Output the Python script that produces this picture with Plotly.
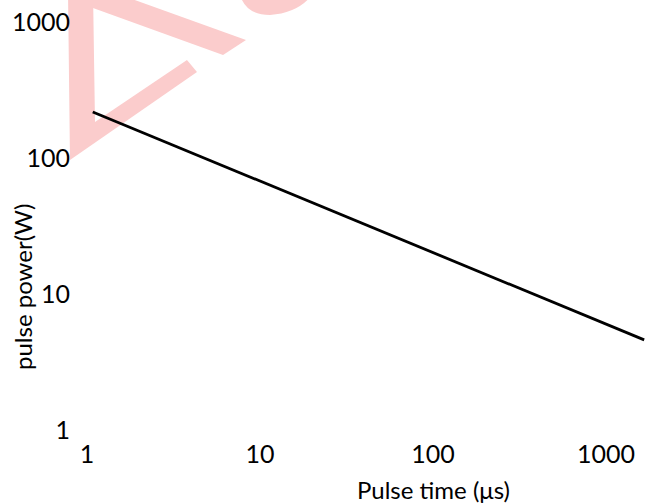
import plotly.graph_objects as go

# data (log-log straight line)
pulse_time_us = [1.08, 1660]
pulse_power_w = [218, 4.6]

x_tick_vals = [1, 10, 100, 1000]
x_tick_text = ["1", "10", "100", "1000"]
y_tick_vals = [1, 10, 100, 1000]
y_tick_text = ["1", "10", "100", "1000"]

VW, VH = 662, 503
PLOT_L, PLOT_R, PLOT_T, PLOT_B = 87, 658, 22, 430   # plot area in page pixels
W, H = VW, VH
ML, MT = PLOT_L, PLOT_T
MR, MB = VW - PLOT_R, VH - PLOT_B
PW, PH = PLOT_R - PLOT_L, PLOT_B - PLOT_T


def px(x):
    return (x - PLOT_L) / PW


def py(y):
    return 1 - (y - PLOT_T) / PH


def path(points):
    return "M " + " L ".join(f"{px(a):.4f},{py(b):.4f}" for a, b in points) + " Z"


fig = go.Figure()
fig.add_trace(go.Scatter(
    x=pulse_time_us, y=pulse_power_w, mode="lines",
    line=dict(color="black", width=2.8), showlegend=False,
))

pink = "rgb(251,204,204)"
shapes = [
    dict(type="path", xref="paper", yref="paper", layer="below",
         path=path([(68, -10), (93, -10), (95, 122), (187, 60), (197, 72), (70, 160)]),
         fillcolor=pink, line=dict(width=0)),
    dict(type="path", xref="paper", yref="paper", layer="below",
         path=path([(93, -10), (93, 8), (223, 55), (246, 40), (107, -10)]),
         fillcolor=pink, line=dict(width=0)),
    dict(type="path", xref="paper", yref="paper", layer="below",
         path=(f"M {px(240):.4f},{py(-5):.4f} Q {px(246):.4f},{py(15):.4f} {px(270):.4f},{py(15):.4f} "
               f"Q {px(298):.4f},{py(13):.4f} {px(312):.4f},{py(-5):.4f} Z"),
         fillcolor=pink, line=dict(width=0)),
]

font_family = "Lato, Open Sans, sans-serif"

fig.update_layout(
    width=W, height=H,
    margin=dict(l=ML, r=MR, t=MT, b=MB, autoexpand=False),
    paper_bgcolor="white", plot_bgcolor="rgba(0,0,0,0)",
    font=dict(family=font_family, color="black"),
    shapes=shapes,
    xaxis=dict(type="log", range=[0, 3.3], showgrid=False, zeroline=False,
               showline=False, ticks="", tickvals=x_tick_vals, ticktext=x_tick_text,
               tickfont=dict(size=25, family=font_family), ticklabelstandoff=7,
               ticklabeloverflow="allow"),
    yaxis=dict(type="log", range=[0, 3], showgrid=False, zeroline=False,
               showline=False, ticks="", tickvals=y_tick_vals, ticktext=y_tick_text,
               tickfont=dict(size=25, family=font_family), ticklabelstandoff=16,
               ticklabeloverflow="allow"),
    annotations=[
        dict(text="Pulse time (μs)", xref="paper", yref="paper",
             x=px(433), y=py(489), xanchor="center", yanchor="middle",
             showarrow=False, font=dict(size=24, family=font_family)),
        dict(text="pulse power(W)", xref="paper", yref="paper",
             x=px(22), y=py(287), xanchor="center", yanchor="middle",
             textangle=-90, showarrow=False, font=dict(size=24, family=font_family)),
    ],
)

fig.write_html("out.html", config={"displayModeBar": False},
               post_script="document.body.style.margin='0';document.body.style.overflow='hidden';")
